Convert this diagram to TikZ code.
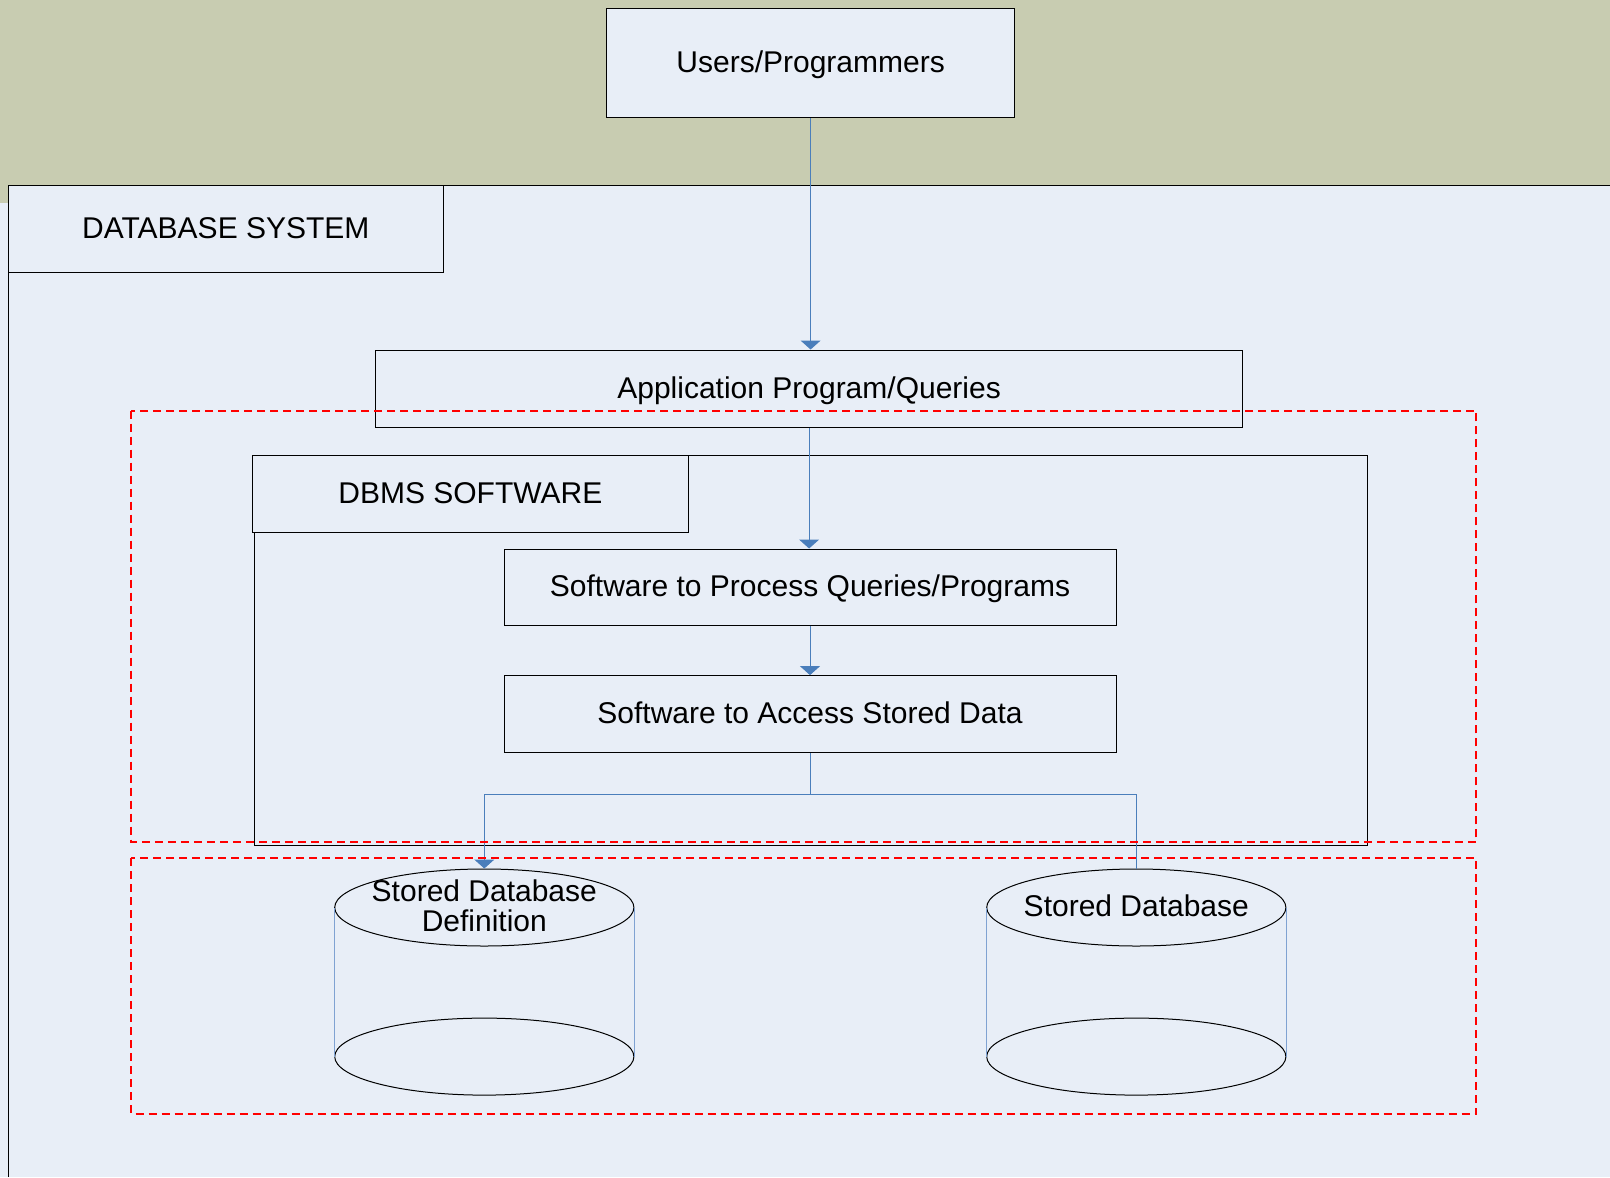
\documentclass[tikz,border=0pt]{standalone}
\usepackage{fontspec}
\setmainfont{Liberation Sans}
\usetikzlibrary{arrows.meta,shapes.geometric}
\definecolor{paleblue}{HTML}{E8EEF7}
\definecolor{bandolive}{HTML}{C8CCB1}
\definecolor{linkblue}{HTML}{4A7EBB}
\definecolor{sideblue}{HTML}{7FA2D2}

\begin{document}
\begin{tikzpicture}[x=0.5pt, y=-0.5pt,
      every node/.style = {font=\fontsize{15}{15}\selectfont, text=black},
      box/.style = {draw=black, line width=0.5pt, fill=paleblue, inner sep=0pt,
        text height=10.7pt, text depth=1pt},
      group/.style = {draw=red, dash pattern=on 4pt off 2.5pt, line width=1pt},
      link/.style = {draw=linkblue, line width=0.5pt},
      flow/.style = {link, -{Triangle[width=10pt,length=4.5pt]}},
      dbend/.style = {draw=black, line width=0.5pt, shape=ellipse, inner sep=0pt,
        minimum width=149.6pt, minimum height=38.5pt},
      dbside/.style = {draw=sideblue, line width=0.6pt}]
  \useasboundingbox (0,0) rectangle (1610,1177);
  % background
  \fill[paleblue] (0,0) rectangle (1610,1177);
  \fill[bandolive] (0,0) rectangle (1610,185);
  \fill[bandolive] (0,185) rectangle (8,203);
  % database system
  \fill[paleblue] (8,185) rectangle (1610,1177);
  \draw[line width=0.5pt] (8,1177) -- (8,185) -- (1610,185);
  \node[box, minimum width=217.8pt, minimum height=43.5pt] (systitle) at (225.8,228.5) {DATABASE SYSTEM};

  \node[box, minimum width=203.9pt, minimum height=54.9pt] (users) at (810.6,63.1) {Users/Programmers};
  \node[box, minimum width=433.3pt, minimum height=38.5pt] (app) at (809.1,388.5) {Application Program/Queries};

  % dbms software
  \node[box, minimum width=556.5pt, minimum height=195pt] (dbms) at (811.1,650) {};
  \node[box, minimum width=217.7pt, minimum height=38.5pt] (dbmstitle) at (470.3,493.5) {DBMS SOFTWARE};
  \node[box, minimum width=306pt, minimum height=38pt] (proc) at (810,587) {Software to Process Queries/Programs};
  \node[box, minimum width=306pt, minimum height=38.5pt] (acc) at (810,714.1) {Software to Access Stored Data};

  % stored data
  \node[dbend] (defntop) at (484.3,907.5) {};
  \node[dbend] (defnbot) at (484.3,1056.6) {};
  \draw[dbside] (defntop.west) -- (defnbot.west);
  \draw[dbside] (defntop.east) -- (defnbot.east);
  \node[align=center] (defnlbl) at (484.3,906) {Stored Database\\Definition};

  \node[dbend] (datatop) at (1136.3,907.5) {};
  \node[dbend] (databot) at (1136.3,1056.6) {};
  \draw[dbside] (datatop.west) -- (databot.west);
  \draw[dbside] (datatop.east) -- (databot.east);
  \node (datalbl) at (1136.3,906) {Stored Database};

  % connectors
  \draw[flow] (users.south) -- (users.south |- app.north);
  \draw[flow] (app.south) -- (app.south |- proc.north);
  \draw[flow] (proc.south) -- (acc.north);
  \coordinate (fork) at (810,794);
  \draw[flow] (acc.south) -- (fork) -| (defntop.north);
  \draw[link] (fork) -| (datatop.north);

  % groups
  \draw[group] (131.4,410.5) rectangle (1476.3,842);
  \draw[group] (131.4,858.3) rectangle (1476.3,1114);
\end{tikzpicture}
\end{document}
